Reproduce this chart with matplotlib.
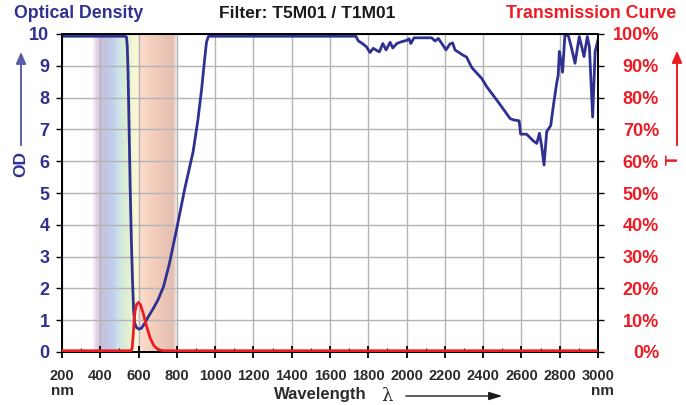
import numpy as np
import matplotlib
matplotlib.use("Agg")
import matplotlib.pyplot as plt
from matplotlib.colors import to_rgb
from matplotlib.ticker import MultipleLocator

# ---------------- data ----------------
wl_od = [200, 530, 537, 541, 545, 550, 556, 562, 568, 574, 580, 590, 603, 615, 630, 650, 675,
         700, 730, 760, 800, 840, 885, 910, 930, 945, 955, 965, 1735, 1748, 1765, 1790, 1809,
         1826, 1845, 1858, 1876, 1893, 1914, 1928, 1949, 1975, 2001, 2013, 2022, 2039, 2131,
         2149, 2166, 2184, 2206, 2227, 2241, 2253, 2288, 2314, 2340, 2370, 2393, 2419, 2480,
         2541, 2558, 2588, 2596, 2627, 2660, 2680, 2694, 2705, 2718, 2732, 2753, 2767, 2784,
         2792, 2798, 2808, 2815, 2827, 2845, 2860, 2880, 2902, 2915, 2927, 2944, 2955, 2972,
         2985, 3000]
od_vals = [9.93, 9.93, 9.9, 9.6, 8.8, 7.2, 5.2, 3.6, 2.3, 1.3, 0.9, 0.76, 0.72, 0.75, 0.88, 1.1,
           1.35, 1.62, 2.05, 2.75, 3.9, 5.1, 6.3, 7.3, 8.3, 9.2, 9.75, 9.93, 9.93, 9.78, 9.72,
           9.6, 9.42, 9.55, 9.48, 9.44, 9.7, 9.5, 9.74, 9.56, 9.7, 9.76, 9.8, 9.85, 9.7, 9.88,
           9.88, 9.78, 9.86, 9.7, 9.5, 9.69, 9.72, 9.5, 9.36, 9.27, 8.95, 8.75, 8.6, 8.34, 7.85,
           7.34, 7.3, 7.27, 6.85, 6.85, 6.65, 6.56, 6.88, 6.5, 5.88, 6.93, 7.12, 7.75, 8.45,
           8.7, 9.45, 9.1, 8.8, 9.97, 9.95, 9.6, 9.08, 9.92, 9.6, 9.29, 9.92, 9.6, 7.39,
           9.45, 9.81]

wl_t = [200, 560, 566, 571, 576, 582, 590, 600, 610, 625, 640, 660, 680, 700, 720, 740, 3000]
t_vals = [0.4, 0.4, 1.0, 4.5, 9.5, 13.0, 15.0, 15.6, 14.8, 12.0, 8.5, 4.5, 2.0, 0.9, 0.5, 0.4, 0.4]

od_ticks = list(range(0, 11))
t_ticks = list(range(0, 101, 10))
t_labels = [f"{v}%" for v in t_ticks]
x_ticks = list(range(200, 3001, 200))

# ---------------- style ----------------
BLUE = "#2e3192"
RED = "#ed1c24"
W, H = 686, 405
FONT = ["Liberation Sans", "DejaVu Sans"]
NARROW = ["Liberation Sans Narrow", "Liberation Sans", "DejaVu Sans"]

fig = plt.figure(figsize=(W / 100, H / 100), dpi=100)
L, R, T, B = 62, 598, 34, 352
ax = fig.add_axes([L / W, 1 - B / H, (R - L) / W, (B - T) / H])

# spectrum band
stops = [(355, "#ffffff"), (378, "#e4d4ea"), (400, "#ccc2e0"), (430, "#c0c4e2"),
         (470, "#c4d2ec"), (495, "#cee4ec"), (515, "#d6ead6"), (545, "#e2f0d0"),
         (568, "#f6f6d2"), (592, "#fdf7d8"), (605, "#fbdccc"), (660, "#f6cfbe"),
         (730, "#ebc5b6"), (775, "#e2bfb2"), (800, "#ffffff")]
xs = np.linspace(350, 810, 500)
sw = np.array([s[0] for s in stops])
sc = np.array([to_rgb(s[1]) for s in stops])
img = np.stack([np.interp(xs, sw, sc[:, k]) for k in range(3)], axis=-1)[None, :, :]
ax.imshow(img, extent=[350, 810, 0, 10], aspect="auto", zorder=0, interpolation="bilinear")
ax.set_xlim(200, 3000)
ax.set_ylim(0, 10)

ax.grid(True, color="#b4b4b4", linewidth=1.0, zorder=1)
ax.set_axisbelow(True)
ax.plot(wl_od, od_vals, color=BLUE, lw=2.0, zorder=3, solid_joinstyle="round")

ax.set_xticks(x_ticks)
ax.xaxis.set_minor_locator(MultipleLocator(100))
ax.set_yticks(od_ticks)
ax.tick_params(axis="x", which="major", direction="inout", length=9, width=1.3,
               pad=8, labelsize=10.5, labelcolor="#2b2b2b")
ax.tick_params(axis="x", which="minor", direction="in", length=3, width=0.8)
ax.tick_params(axis="y", which="major", direction="out", length=4, width=1.0,
               pad=5, labelsize=13, labelcolor=BLUE)
for lab in ax.get_xticklabels():
    lab.set_fontfamily(NARROW)
    lab.set_fontweight("bold")
for lab in ax.get_yticklabels():
    lab.set_fontfamily(FONT)
    lab.set_fontweight("bold")
for sp in ax.spines.values():
    sp.set_color("black")
    sp.set_linewidth(1.3)

ax2 = ax.twinx()
ax2.set_ylim(0, 100)
ax2.set_yticks(t_ticks)
ax2.set_yticklabels(t_labels)
ax2.plot(wl_t, t_vals, color=RED, lw=2.0, zorder=4, solid_joinstyle="round")
ax2.tick_params(axis="y", direction="out", length=4, width=1.0, pad=40,
                labelsize=13, labelcolor=RED)
for lab in ax2.get_yticklabels():
    lab.set_fontfamily(FONT)
    lab.set_fontweight("bold")
    lab.set_horizontalalignment("right")
for sp in ax2.spines.values():
    sp.set_color("black")
    sp.set_linewidth(1.3)

def fx(x):
    return x / W

def fy(y):
    return 1 - y / H

# titles
fig.text(fx(14), fy(13), "Optical Density", color=BLUE, fontsize=12.8, fontweight="bold",
         family=FONT, ha="left", va="center")
fig.text(fx(307), fy(14), "Filter: T5M01 / T1M01", color="#1a1a1a", fontsize=12.5,
         fontweight="bold", family=FONT, ha="center", va="center")
fig.text(fx(676), fy(14), "Transmission Curve", color=RED, fontsize=12.8, fontweight="bold",
         family=FONT, ha="right", va="center")

# left axis label OD with arrow
fig.text(fx(21), fy(164), "OD", color=BLUE, fontsize=12.5, fontweight="bold", family=FONT,
         rotation=90, ha="center", va="center")
fig.patches.append(matplotlib.patches.FancyArrowPatch(
    (fx(21), fy(148)), (fx(21), fy(49)), transform=fig.transFigure,
    arrowstyle="-|>,head_length=7,head_width=3", color="#5a5ea8", lw=1.4))

# right axis label T with arrow
fig.text(fx(673), fy(160), "T", color=RED, fontsize=12.5, fontweight="bold", family=FONT,
         rotation=90, ha="center", va="center")
fig.patches.append(matplotlib.patches.FancyArrowPatch(
    (fx(677), fy(148)), (fx(677), fy(48)), transform=fig.transFigure,
    arrowstyle="-|>,head_length=7,head_width=3", color=RED, lw=1.4))

# nm labels
fig.text(fx(62), fy(391), "nm", color="#2b2b2b", fontsize=11, fontweight="bold",
         family=NARROW, ha="center", va="center")
fig.text(fx(603), fy(391), "nm", color="#2b2b2b", fontsize=11, fontweight="bold",
         family=NARROW, ha="center", va="center")

# Wavelength label
fig.text(fx(320), fy(395), "Wavelength", color="#2b2b2b", fontsize=12, fontweight="bold",
         family=NARROW, ha="center", va="center")
fig.text(fx(387), fy(396), "λ", color="#2b2b2b", fontsize=13, family=["DejaVu Serif"],
         ha="center", va="center")
fig.patches.append(matplotlib.patches.FancyArrowPatch(
    (fx(403), fy(396)), (fx(505), fy(396)), transform=fig.transFigure,
    arrowstyle="-|>,head_length=8,head_width=2.5", color="#1a1a1a", lw=1.0))

fig.savefig("out.png", dpi=100)
